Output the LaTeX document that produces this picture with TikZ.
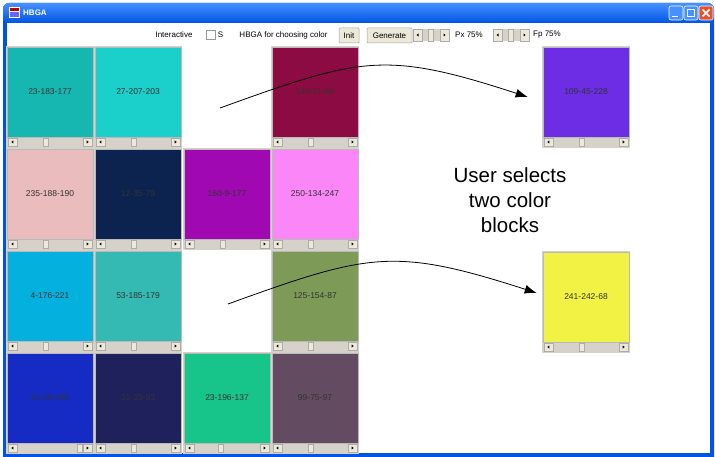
\documentclass[tikz,border=0pt]{standalone}
\usepackage{fontspec}
\setmainfont{Liberation Sans}
\usetikzlibrary{arrows.meta}
\definecolor{xpblue}{RGB}{0,84,227}
\definecolor{xplight}{RGB}{70,145,255}
\definecolor{track}{RGB}{214,210,202}
\definecolor{btnface}{RGB}{236,233,216}
\definecolor{xpred}{RGB}{225,85,45}
\begin{document}
\begin{tikzpicture}[
        x=1pt, y=-1pt,
        cblock/.style={draw=gray!55, line width=0.6pt, minimum width=86pt, minimum height=90pt,
                       inner sep=0pt, font=\fontsize{8.5}{10}\selectfont, text=black!80},
        sbtn/.style={fill=btnface, draw=gray!65, line width=0.4pt},
        tlbl/.style={font=\fontsize{8}{10}\selectfont, inner sep=0pt},
        pbtn/.style={fill=btnface, draw=gray!70, line width=0.5pt, rounded corners=1pt,
                     minimum height=15pt, inner sep=2pt, font=\fontsize{8}{10}\selectfont},
        winbtn/.style={draw=white, line width=0.6pt, rounded corners=2pt, minimum size=14pt, inner sep=0pt},
        sel/.style={-{Latex[length=12pt,width=9pt]}, line width=0.8pt},
        note/.style={font=\fontsize{20.5}{25}\selectfont, align=center}]

    \useasboundingbox (0,0) rectangle (715,457);

    % --- Marco de ventana y barra de título
    \fill[xpblue] (3,457) {[rounded corners=6pt] -- (3,3) -- (714,3)} -- (714,457) -- cycle;
    \shade[top color=xplight, bottom color=xpblue, rounded corners=6pt] (3,3) rectangle (714,23);
    \fill[white] (7,23) rectangle (710,453);

    \fill[white] (9,7) rectangle (20,18);
    \fill[red!75!black] (10,8) rectangle (19,11);
    \fill[blue!60] (10,12) rectangle (19,17);
    \node[font=\bfseries\fontsize{8}{10}\selectfont, text=white, anchor=west, inner sep=0pt] (ttl) at (23,12.5) {HBGA};

    \node[winbtn, fill=xplight] (tmin) at (676,13) {};
    \node[winbtn, fill=xplight] (tmax) at (691,13) {};
    \node[winbtn, fill=xpred] (tcls) at (706,13) {};
    \fill[white] (672,16) rectangle (678,17.5);
    \draw[white, line width=0.8pt] (687.5,9) rectangle (694.5,16.5);
    \draw[white, line width=1.6pt] (687.5,9.5) -- (694.5,9.5);
    \draw[white, line width=1.5pt] (702.5,9.5) -- (709.5,16.5) (709.5,9.5) -- (702.5,16.5);

    % --- Barra de herramientas
    \node[tlbl] (inter) at (174,35) {Interactive};
    \node[draw=gray!80, fill=white, minimum size=9pt, inner sep=0pt] (chk) at (210.5,35) {};
    \node[tlbl] (opts) at (220.5,35) {S};
    \node[tlbl] (hbga) at (283.5,35) {HBGA for choosing color};
    \node[pbtn, minimum width=20pt] (init) at (349,35.5) {Init};
    \node[pbtn, minimum width=45pt] (gen) at (389.5,35.5) {Generate};
    \foreach \x in {413,493} {
        \fill[track] (\x,29) rectangle (\x+36,41);
        \draw[sbtn] (\x,29) rectangle (\x+9,41);
        \draw[sbtn] (\x+27,29) rectangle (\x+36,41);
        \draw[sbtn] (\x+15.5,29) rectangle (\x+20.5,41);
        \fill (\x+3.5,35) -- (\x+5.5,33.5) -- (\x+5.5,36.5) -- cycle;
        \fill (\x+32.5,35) -- (\x+30.5,33.5) -- (\x+30.5,36.5) -- cycle;
    }
    \node[tlbl] (px) at (469,35) {Px 75\%};
    \node[tlbl] (fp) at (547,35) {Fp 75\%};

    % --- Bloques de color (nombre / izquierda / arriba / pulgar / R G B)
    \foreach \nm/\L/\T/\f/\R/\G/\B in {
            c11/7/47/.42/23/183/177, c12/95/47/.42/27/207/203, c14/272/47/.42/140/11/66,
            c21/7/149/.42/235/188/190, c22/95/149/.42/12/35/79, c23/184/149/.42/160/9/177,
            c24/272/149/.42/250/134/247,
            c31/7/251/.42/4/176/221, c32/95/251/.42/53/185/179, c34/272/251/.42/125/154/87,
            c41/7/353/.82/21/43/195, c42/95/353/.42/31/33/93, c43/184/353/.4/23/196/137,
            c44/272/353/.42/99/75/97,
            p1/543/47/.42/109/45/228, p2/543/252/.42/241/242/68} {
        \definecolor{cc}{RGB}{\R,\G,\B}
        \fill[track] (\L-1,\T-1) rectangle (\L+87,\T+101);
        \node[cblock, fill=cc] (\nm) at (\L+43,\T+45) {\R-\G-\B};
        \draw[sbtn] (\L+1,\T+91) rectangle (\L+10,\T+99);
        \draw[sbtn] (\L+76,\T+91) rectangle (\L+85,\T+99);
        \pgfmathsetmacro\tx{\L+\f*86}
        \draw[sbtn] (\tx,\T+91) rectangle (\tx+5,\T+99);
        \fill (\L+4.3,\T+95) -- (\L+6.3,\T+93.5) -- (\L+6.3,\T+96.5) -- cycle;
        \fill (\L+81.7,\T+95) -- (\L+79.7,\T+93.5) -- (\L+79.7,\T+96.5) -- cycle;
    }

    % --- Texto y flechas de selección
    \node[note] (note) at (510,200) {User selects\\two color\\blocks};

    \coordinate (s1) at (220,108);
    \coordinate (s2) at (228,304);
    \coordinate (t1) at ([xshift=-15pt,yshift=-5pt]p1.west);
    \coordinate (t2) at ([xshift=-6pt,yshift=4pt]p2.west);
    \draw[sel] (s1) .. controls (361,57) and (385,50.5) .. (t1);
    \draw[sel] (s2) .. controls (369,253) and (394,247) .. (t2);

\end{tikzpicture}
\end{document}
